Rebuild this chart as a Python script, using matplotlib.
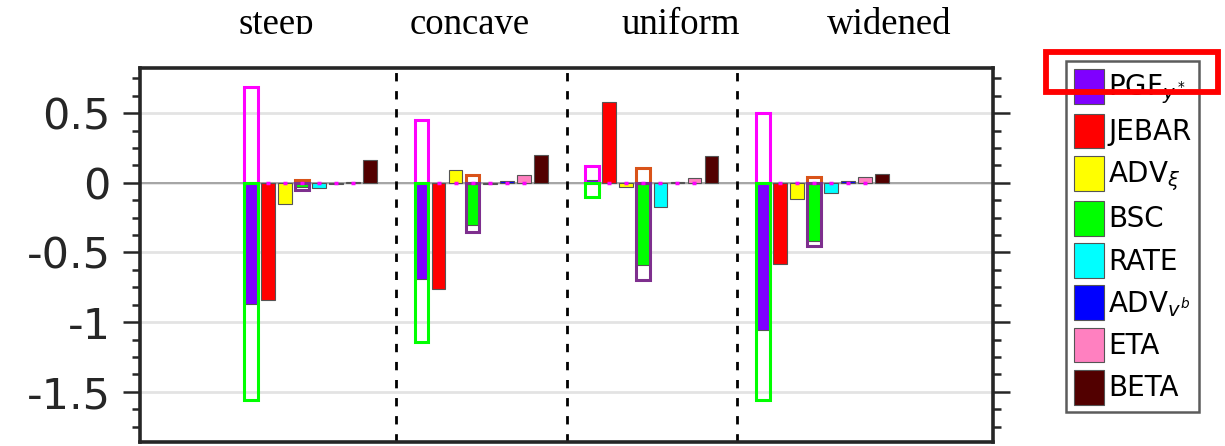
import numpy as np
import matplotlib
matplotlib.use("Agg")
import matplotlib.pyplot as plt
from matplotlib.patches import Rectangle
from matplotlib.ticker import MultipleLocator, FuncFormatter
from matplotlib.transforms import Bbox, TransformedBbox, blended_transform_factory

plt.rcParams["font.family"] = "DejaVu Sans"
plt.rcParams["axes.unicode_minus"] = False

# shelf shapes and budget terms
groups = ["steep", "concave", "uniform", "widened"]
terms = [r"PGF$_{y^*}$", "JEBAR", r"ADV$_\xi$", "BSC", "RATE", r"ADV$_{v^b}$", "ETA", "BETA"]
colors = ["#7f00ff", "#ff0000", "#ffff00", "#00ff00", "#00ffff", "#0000ff", "#ff80c0", "#520000"]

pgf = [-0.87, -0.69, 0.02, -1.06]
jebar = [-0.84, -0.76, 0.58, -0.58]
adv_xi = [-0.15, 0.095, -0.03, -0.115]
bsc = [-0.03, -0.30, -0.59, -0.415]
rate = [-0.035, -0.01, -0.17, -0.075]
adv_vb = [-0.005, 0.015, 0.005, 0.015]
eta = [0.008, 0.055, 0.035, 0.04]
beta = [0.165, 0.20, 0.195, 0.065]

# decomposition of PGF and BSC (hollow bars)
pgf_pos = [0.69, 0.45, 0.12, 0.50]
pgf_neg = [-1.56, -1.14, -0.10, -1.56]
bsc_pos = [0.02, 0.055, 0.11, 0.04]
bsc_neg = [-0.05, -0.355, -0.70, -0.455]

title_x = [0.80, 1.93, 3.17, 4.39]

values = [pgf, jebar, adv_xi, bsc, rate, adv_vb, eta, beta]

fig = plt.figure(figsize=(12.25, 4.46), dpi=100)
ax = fig.add_axes([140 / 1225, 1 - 442 / 446, 853 / 1225, 374 / 446])

x = np.arange(1, len(groups) + 1)
step = 0.1
w = 0.08
offsets = (np.arange(len(terms)) - 3.5) * step

handles = []
for i, vals in enumerate(values):
    b = ax.bar(x + offsets[i], vals, w, color=colors[i], edgecolor="#555555",
               linewidth=0.8, zorder=3, label=terms[i])
    handles.append(b)

# hollow component bars
ax.bar(x + offsets[0], pgf_pos, w, facecolor="none", edgecolor="#ff00ff", linewidth=2.2, zorder=4)
ax.bar(x + offsets[0], pgf_neg, w, facecolor="none", edgecolor="#00ff00", linewidth=2.2, zorder=4)
ax.bar(x + offsets[3], bsc_pos, w, facecolor="none", edgecolor="#d95319", linewidth=2.2, zorder=4)
ax.bar(x + offsets[3], bsc_neg, w, facecolor="none", edgecolor="#7e2f8e", linewidth=2.2, zorder=4)

# little magenta marks at the base of the other bars
for g in x:
    ax.plot(g + offsets[1:7], np.zeros(6), ls="none", marker="_", ms=3.5, mew=2.5,
            color="#ff00ff", zorder=5)

ax.axhline(0, color="#a0a0a0", lw=1.3, zorder=2)
for g in x[:-1]:
    ax.axvline(g + 0.5, color="black", lw=2.0, ls=(0, (3, 3.5)), zorder=2)

ax.set_xlim(0, 5)
ax.set_ylim(-1.861, 0.825)
ax.set_xticks([])
ax.yaxis.set_major_locator(MultipleLocator(0.5))
ax.yaxis.set_minor_locator(MultipleLocator(0.125))
ax.yaxis.set_major_formatter(FuncFormatter(lambda v, p: "%g" % v))
ax.tick_params(axis="y", which="both", direction="out", left=True, right=True,
               labelright=False, color="#262626", width=1.8, labelsize=31,
               labelcolor="#262626")
ax.tick_params(axis="y", which="major", length=12, pad=9)
ax.tick_params(axis="y", which="minor", length=6)
ax.grid(axis="y", which="major", color="#e3e3e3", lw=2, zorder=1)
for s in ax.spines.values():
    s.set_linewidth(2.6)
    s.set_color("#262626")

leg = fig.legend(handles=handles, loc="upper left",
                 bbox_to_anchor=(1066 / 1225, 1 - 61 / 446), bbox_transform=fig.transFigure,
                 fontsize=20, frameon=True, fancybox=False, edgecolor="#333333",
                 borderaxespad=0, borderpad=0.28, handlelength=1.08, handleheight=1.55,
                 handletextpad=0.15, labelspacing=0.27)
leg.get_frame().set_linewidth(1.8)

# group titles, clipped at the bottom like the original
clip = TransformedBbox(Bbox.from_extents(0, 1 - 34 / 446, 1, 1), fig.transFigure)
for name, tx in zip(groups, title_x):
    t = ax.text(tx, 1 - 33.5 / 446, name, ha="center", va="baseline", fontsize=26.5,
                family="Liberation Serif",
                transform=blended_transform_factory(ax.transData, fig.transFigure))
    t.set_clip_on(True)
    t.set_clip_box(clip)

# red highlight box around the first legend entry
fig.patches.append(Rectangle((1045.5 / 1225, 1 - 92 / 446), 172.5 / 1225, 40.5 / 446,
                             transform=fig.transFigure, fill=False, edgecolor="#ff0000",
                             lw=4.2, zorder=10))

fig.savefig("out.png", dpi=100)
